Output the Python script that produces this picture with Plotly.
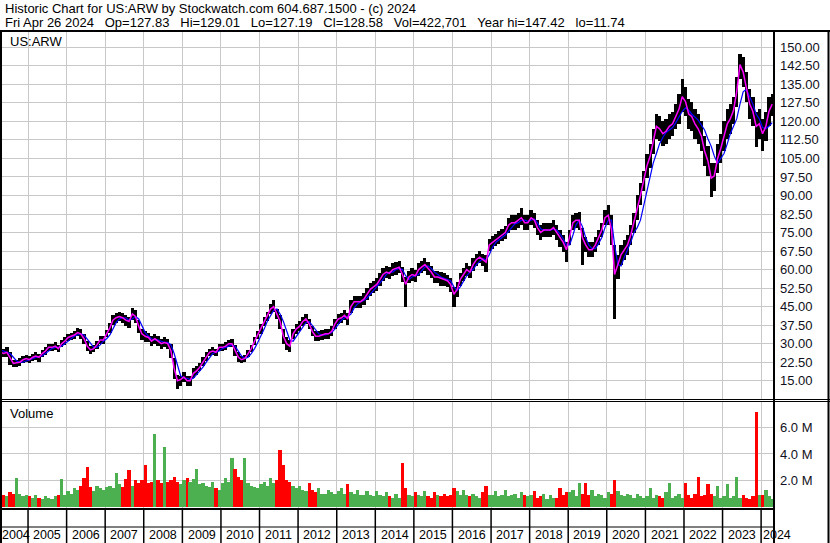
import pandas as pd
import plotly.graph_objects as go

# monthly samples, Apr 2004 .. Apr 2024
months = pd.date_range("2004-04-01", "2024-04-01", freq="MS") + pd.Timedelta(days=14)

price_hi = [
    28.5, 28, 28.5, 26.5, 23.5, 23.5, 24, 25, 25.5,                 # 2004
    25, 26, 26.5, 26, 27.5, 28.5, 30, 30, 30.5, 29.5, 31.5, 32.5,    # 2005
    34, 34.5, 35, 36.5, 36, 34, 31, 29, 29.5, 31, 33, 33,            # 2006
    35.5, 38.5, 41.5, 42.5, 43, 42.5, 41.5, 41, 44.5, 43.5, 39.5, 36,  # 2007
    35, 34.5, 33, 34, 33, 32, 32.5, 32, 30, 24, 17.5, 17,            # 2008
    18.5, 17, 17, 20, 21, 22, 24.5, 26.5, 28, 28.5, 28, 30,          # 2009
    30, 30.5, 31.5, 32, 29.5, 26.5, 25, 25.5, 27.5, 29.5, 32.5, 35,  # 2010
    38, 41, 43, 46, 47.5, 44, 41.5, 36, 32.5, 31.5, 36, 38,          # 2011
    39, 41, 42, 40, 37, 35, 35, 35.5, 36, 36, 37, 40,                # 2012
    42, 42.5, 43.5, 42.5, 47.5, 49.5, 49.5, 49.5, 50.5, 52.5, 54.5, 55.5,  # 2013
    56.5, 58.5, 60.5, 61.5, 61, 62.5, 63, 63.5, 61, 57, 59.5, 60.5,  # 2014
    60, 62.5, 63.5, 64.5, 63, 61.5, 59.5, 59.5, 59, 58.5, 58, 56.5,  # 2015
    53, 55, 58.5, 60.5, 62.5, 61.5, 64.5, 66.5, 67.5, 66.5, 66, 72.5,  # 2016
    73.5, 74.5, 75.5, 76.5, 77.5, 81, 82, 82, 83, 85, 82, 82,        # 2017
    84, 83, 80, 78, 79, 79, 79, 80, 78, 76, 74, 71,                  # 2018
    76, 82, 83, 83.5, 77, 73, 71, 71, 73, 76, 79, 84,                # 2019
    86, 82, 70, 66, 70, 72, 74, 78, 83, 90, 95, 100,                 # 2020
    107, 111, 117, 123, 122, 120, 121, 123, 124, 127, 131, 137,      # 2021
    134, 129, 128, 125, 123, 120, 114, 110, 103, 103, 111, 115,      # 2022
    120, 125, 127, 130, 138, 147.4, 146, 140, 133, 130, 124, 125,    # 2023
    121, 124, 130, 131,                                              # 2024
]

price_lo = [
    25, 24.5, 24.5, 21.5, 20.5, 20.5, 21, 22, 22.5,
    22, 23, 23.5, 22.5, 24.5, 25.5, 27, 27, 27.5, 26.5, 28.5, 29.5,
    31, 31.5, 32, 33, 32, 30, 27, 26, 26.5, 28, 30, 30,
    32.5, 34.5, 37.5, 38.5, 39, 38.5, 37, 36.5, 39.5, 38.5, 34.5, 31.5,
    30.5, 30.5, 29, 30, 29, 28, 28.5, 28, 24, 15.5, 11.7, 13,
    14.5, 13, 13, 16, 17.5, 19, 21, 23, 25, 25.5, 25, 27,
    27, 27.5, 28.5, 28.5, 25, 22.5, 22, 22.5, 24.5, 26.5, 29.5, 32,
    34, 37, 39, 42, 43, 40, 36, 30, 27.5, 26.5, 32, 34,
    35, 37, 38, 36, 33, 31, 31, 31.5, 32, 32, 33, 36,
    38, 38.5, 39.5, 37.5, 42.5, 44.5, 44.5, 44.5, 45.5, 47.5, 49.5, 50.5,
    51.5, 53.5, 55.5, 56.5, 56, 57.5, 58, 58.5, 55, 45, 54.5, 55.5,
    55, 57.5, 58.5, 59.5, 58, 56.5, 54.5, 54.5, 53.5, 53.5, 53, 51,
    45, 49, 53.5, 55.5, 57.5, 56.5, 59.5, 61.5, 62.5, 61.5, 59, 67.5,
    68.5, 69.5, 70.5, 71.5, 72.5, 75, 76, 76, 77, 78, 76, 76,
    78, 77, 74, 72, 73, 73, 73, 74, 72, 69, 67, 63,
    70, 76, 77, 76, 62, 67, 65, 65, 67, 70, 73, 78,
    78, 70, 40, 56, 62, 64, 66, 70, 75, 80, 86, 92,
    97, 101, 107, 113, 112, 110, 111, 113, 114, 117, 119, 124,
    122, 117, 116, 113, 111, 108, 102, 98, 89.5, 92, 99, 103,
    108, 113, 115, 119, 126, 137, 134, 128, 121, 118, 109.6, 113,
    108, 112, 118, 122,
]

ma_fast = [
    26.5, 26, 26.5, 24, 22, 22.3, 22.5, 23.5, 24,
    23.5, 24.5, 25, 24.5, 26, 27, 28.5, 28.5, 29, 28, 30, 31,
    32.5, 33, 33.5, 34.5, 34, 32, 29, 27.5, 28, 29.5, 31.5, 31.5,
    34, 36.5, 39.5, 40.5, 41, 40.5, 39.5, 39, 42, 41, 37, 34,
    33, 32.5, 31, 32, 31, 30, 30.5, 30, 27, 20, 15, 15.5,
    16.5, 15, 15, 18, 19, 20.5, 22.5, 24.5, 26.5, 27, 26.5, 28.5,
    28.5, 29, 30, 30, 27, 24.5, 23.5, 24, 26, 28, 31, 33.5,
    36, 39, 41, 44, 45, 42, 39, 33, 30, 29, 34, 36,
    37, 39, 40, 38, 35, 33, 33, 33.5, 34, 34, 35, 38,
    40, 40.5, 41.5, 40, 45, 47, 47, 47, 48, 50, 52, 53,
    54, 56, 58, 59, 58.5, 60, 60.5, 61, 58, 54, 57, 58,
    57.5, 60, 61, 62, 60.5, 59, 57, 57, 56.5, 56, 55.5, 54,
    50, 52, 56, 58, 60, 59, 62, 64, 65, 64, 63, 70,
    71, 72, 73, 74, 75, 78, 79, 79, 80, 81, 79, 79,
    81, 80, 77, 75, 76, 76, 76, 77, 75, 73, 71, 68,
    73, 79, 80, 80, 73, 70, 68, 68, 70, 73, 76, 81,
    82, 76, 58, 62, 66, 68, 70, 74, 79, 85, 90, 96,
    102, 106, 112, 118, 117, 115, 116, 118, 119, 122, 125, 130,
    128, 123, 122, 119, 117, 114, 108, 104, 97, 98, 105, 109,
    114, 119, 121, 124.5, 132, 143, 140, 134, 127, 124, 118, 119,
    115, 118, 124, 127,
]

ma_slow = [
    27.5, 27, 26.5, 26, 24.5, 23, 22.5, 22.5, 23,
    23.5, 24, 24.5, 24.8, 25, 26, 27, 28, 28.5, 28.5, 29, 30,
    31, 32, 33, 33.5, 34, 33.5, 32, 30, 28.5, 28.5, 29.5, 31,
    32, 33.5, 36, 38.5, 40, 40.5, 40.5, 39.5, 40, 41, 40, 37,
    34.5, 33, 32, 31.5, 31.5, 31, 30.5, 30.5, 29.5, 26, 21, 17,
    16, 16, 15.5, 16, 17.5, 19, 20.5, 22.5, 24.5, 26, 26.5, 27,
    28, 28.5, 29, 29.5, 29, 27, 25, 24, 24.5, 26, 28, 30.5,
    33, 36, 39, 41.5, 43.5, 44, 42, 39, 35, 31.5, 31, 33,
    35, 37, 38.5, 39, 37.5, 35.5, 34, 33.5, 33.5, 34, 34.5, 36,
    38, 39.5, 40.5, 41, 42, 44.5, 46, 47, 47.5, 48.5, 50, 51.5,
    53, 54.5, 56, 58, 59, 59, 60, 60.5, 60, 57.5, 56, 57,
    57.5, 58, 59.5, 61, 61.5, 60.5, 59, 58, 57, 56.5, 56, 55.5,
    53, 51.5, 53, 55.5, 57.5, 59, 60, 62, 63.5, 64.5, 64, 66,
    69, 71, 72, 73, 74, 75.5, 77, 78.5, 79, 80, 80, 79.5,
    80, 80.5, 79, 76.5, 76, 76, 76, 76.5, 76, 74.5, 72.5, 70,
    70, 74, 78, 80, 77.5, 73, 70, 68.5, 68.5, 70.5, 73, 77,
    80, 80, 70, 62, 61.5, 65, 68, 71, 75, 77, 80, 86,
    92, 98, 103, 107, 111, 113.5, 115.5, 116.5, 117.5, 119.5, 122, 124,
    125.5, 124.5, 123, 121.5, 120.5, 118.5, 116.5, 113, 110, 106, 103, 105,
    107, 111, 115, 118, 121, 127, 132, 133, 130, 127, 123, 121,
    117.5, 117, 118, 119.5,
]

# volume, millions of shares
volume = [
    1.0, 0.9, 0.8, 1.1, 1.0, 2.2, 1.0, 0.8, 0.9,
    0.8, 0.7, 0.9, 0.7, 0.6, 0.8, 0.7, 0.6, 0.8, 0.9, 2.1, 0.9,
    1.2, 1.0, 1.4, 1.3, 1.6, 2.2, 3.0, 1.5, 1.2, 1.6, 1.4, 1.3,
    1.5, 1.6, 1.4, 2.6, 1.7, 1.5, 2.1, 2.8, 1.6, 2.0, 1.8, 2.0,
    3.2, 1.8, 1.9, 5.5, 2.0, 1.8, 4.5, 1.9, 2.0, 2.3, 1.9, 1.7,
    2.0, 2.2, 1.9, 2.1, 2.9, 1.7, 1.8, 1.6, 1.5, 1.9, 1.4, 1.3,
    1.8, 2.2, 1.9, 3.7, 2.9, 2.3, 2.0, 3.7, 1.8, 1.6, 1.5, 1.4,
    1.7, 1.9, 1.6, 2.2, 1.8, 2.0, 4.3, 3.2, 2.0, 1.9, 1.6, 1.4,
    1.6, 1.3, 1.2, 1.8, 1.3, 1.1, 1.4, 1.0, 1.0, 1.3, 1.1, 1.0,
    1.2, 1.4, 1.0, 1.7, 1.1, 1.0, 1.3, 0.9, 0.9, 1.2, 0.9, 0.8,
    1.2, 0.9, 0.8, 1.1, 0.8, 0.7, 1.0, 0.7, 3.3, 1.4, 0.9, 0.8,
    1.1, 0.9, 0.8, 1.2, 0.8, 0.7, 1.1, 0.9, 0.8, 1.0, 0.8, 0.9,
    1.4, 1.2, 0.9, 1.3, 0.9, 0.8, 1.0, 0.8, 0.7, 1.1, 1.6, 0.9,
    0.9, 1.2, 0.8, 0.9, 1.3, 0.8, 0.9, 1.0, 0.7, 1.1, 0.9, 0.8,
    0.9, 1.2, 0.7, 0.8, 1.0, 0.6, 0.9, 0.7, 0.7, 1.4, 0.9, 1.1,
    1.1, 1.3, 0.8, 1.8, 1.0, 1.8, 0.9, 1.3, 0.8, 1.0, 0.9, 0.7,
    1.1, 1.0, 2.0, 1.2, 0.9, 0.8, 1.0, 0.9, 0.7, 1.0, 0.8, 0.7,
    0.8, 1.4, 0.7, 0.9, 0.8, 0.7, 1.1, 1.8, 0.7, 0.8, 1.0, 0.7,
    1.8, 0.9, 0.7, 1.0, 2.3, 0.8, 0.9, 1.7, 1.0, 0.8, 1.6, 0.7,
    0.8, 1.7, 0.7, 0.8, 2.3, 0.7, 0.9, 0.7, 0.6, 0.8, 7.2, 0.9,
    0.9, 1.3, 0.8, 0.6,
]

years = list(range(2004, 2025))
price_ticks = [15, 22.5, 30, 37.5, 45, 52.5, 60, 67.5, 75, 82.5, 90, 97.5,
               105, 112.5, 120, 127.5, 135, 142.5, 150]
vol_ticks = [2e6, 4e6, 6e6]
vol_labels = ["2.0 M", "4.0 M", "6.0 M"]

header1 = "Historic Chart for US:ARW by Stockwatch.com 604.687.1500 - (c) 2024"
header2 = ("Fri Apr 26 2024", "Op=127.83", "Hi=129.01", "Lo=127.19", "Cl=128.58",
           "Vol=422,701", "Year hi=147.42", "lo=11.74")

W, H = 830, 543
L, R, T, B = 1, 774, 31, 508
FONT = "Liberation Sans, Arial, sans-serif"
GRID = "#c8c8c8"


def px_x(px):
    return (px - L) / (R - L)


def px_y(py):
    return (B - py) / (B - T)


n = len(months)
assert all(len(a) == n for a in (price_hi, price_lo, ma_fast, ma_slow, volume))

month_ms = 31 * 24 * 3600 * 1000
vol_colors = ["#4cb050"] + ["#ff0000" if ma_fast[i] < ma_fast[i - 1] else "#4cb050" for i in range(1, n)]

fig = go.Figure()
fig.add_trace(go.Bar(x=months, base=price_lo, y=[h - l for h, l in zip(price_hi, price_lo)],
                     width=month_ms, marker=dict(color="black", line=dict(width=0)),
                     xaxis="x", yaxis="y", hoverinfo="skip"))
fig.add_trace(go.Scatter(x=months, y=ma_slow, mode="lines", line=dict(color="#0000ff", width=1.2),
                         xaxis="x", yaxis="y"))
fig.add_trace(go.Scatter(x=months, y=ma_fast, mode="lines", line=dict(color="#ff00ff", width=1.5),
                         xaxis="x", yaxis="y"))
fig.add_trace(go.Bar(x=months, y=[v * 1e6 for v in volume], width=month_ms,
                     marker=dict(color=vol_colors, line=dict(width=0)),
                     xaxis="x2", yaxis="y2"))

xrange = ["2004-04-20", "2024-05-02"]
axis_common = dict(type="date", range=xrange, showgrid=True, gridcolor=GRID, gridwidth=1,
                   tick0="2005-01-01", dtick="M12", showticklabels=False, ticks="",
                   zeroline=False, showline=False, domain=[0, 1], automargin=False)

annotations = [
    dict(text=header1, x=px_x(3), y=px_y(8.5), xref="paper", yref="paper",
         xanchor="left", yanchor="middle", showarrow=False, font=dict(size=13)),
    dict(text="\u00a0\u00a0\u00a0".join(header2), x=px_x(3), y=px_y(22.5), xref="paper", yref="paper",
         xanchor="left", yanchor="middle", showarrow=False, font=dict(size=13)),
    dict(text="US:ARW", x=px_x(8), y=px_y(41), xref="paper", yref="paper",
         xanchor="left", yanchor="middle", showarrow=False, font=dict(size=13)),
    dict(text="Volume", x=px_x(8), y=px_y(413), xref="paper", yref="paper",
         xanchor="left", yanchor="middle", showarrow=False, font=dict(size=13)),
]
for yr in years:
    if yr == years[0]:
        xa, xr, anchor = px_x(0), "paper", "left"
    elif yr == years[-1]:
        xa, xr, anchor = f"{yr}-01-01", "x2", "left"
    else:
        xa, xr, anchor = f"{yr}-07-02", "x2", "center"
    annotations.append(dict(text=str(yr), x=xa, y=px_y(535), xref=xr, yref="paper",
                            xanchor=anchor, yanchor="middle", showarrow=False,
                            font=dict(size=12.5)))

line = dict(color="black", width=2)
thin = dict(color="black", width=1)
shapes = [
    dict(type="line", xref="paper", yref="paper", x0=px_x(0), x1=px_x(830), y0=px_y(31), y1=px_y(31), line=line),
    dict(type="line", xref="paper", yref="paper", x0=px_x(1), x1=px_x(1), y0=px_y(31), y1=px_y(543), line=line),
    dict(type="line", xref="paper", yref="paper", x0=px_x(774), x1=px_x(774), y0=px_y(31), y1=px_y(543), line=line),
    dict(type="line", xref="paper", yref="paper", x0=px_x(828.5), x1=px_x(828.5), y0=px_y(31), y1=px_y(543), line=line),
    dict(type="line", xref="paper", yref="paper", x0=px_x(0), x1=px_x(830), y0=px_y(399.5), y1=px_y(399.5), line=thin),
    dict(type="line", xref="paper", yref="paper", x0=px_x(0), x1=px_x(830), y0=px_y(401.5), y1=px_y(401.5), line=thin),
    dict(type="line", xref="paper", yref="paper", x0=px_x(0), x1=px_x(774), y0=px_y(509), y1=px_y(509), line=line),
    dict(type="line", xref="paper", yref="paper", x0=px_x(0), x1=px_x(774), y0=px_y(527), y1=px_y(527), line=thin),
]
for yr in years[1:]:
    shapes.append(dict(type="line", xref="x2", yref="paper", x0=f"{yr}-01-01", x1=f"{yr}-01-01",
                       y0=px_y(509), y1=px_y(543), line=dict(color="black", width=1.5)))

fig.update_layout(
    width=W, height=H, autosize=False,
    margin=dict(l=L, r=W - R, t=T, b=H - B, pad=0, autoexpand=False),
    paper_bgcolor="white", plot_bgcolor="white",
    font=dict(family=FONT, size=13, color="black"),
    showlegend=False, bargap=0, barmode="overlay",
    xaxis=dict(axis_common, anchor="y"),
    xaxis2=dict(axis_common, anchor="y2", matches="x"),
    yaxis=dict(domain=[px_y(400), 1], range=[7.19, 156.6], side="right", tickvals=price_ticks,
               ticktext=[f"{v:.2f}" for v in price_ticks], showgrid=True, gridcolor=GRID,
               zeroline=False, showline=False, ticks="", ticklabelstandoff=5, automargin=False,
               tickfont=dict(size=13, color="#101020")),
    yaxis2=dict(domain=[0, px_y(402)], range=[-0.075e6, 7.92e6], side="right", tickvals=vol_ticks,
                ticktext=vol_labels, showgrid=True, gridcolor=GRID, zeroline=False,
                showline=False, ticks="", ticklabelstandoff=5, automargin=False,
                tickfont=dict(size=13, color="#101020")),
    annotations=annotations,
    shapes=shapes,
)

fig.write_html("out.html", config={"displayModeBar": False},
               post_script="document.body.style.margin='0';document.body.style.overflow='hidden';")
